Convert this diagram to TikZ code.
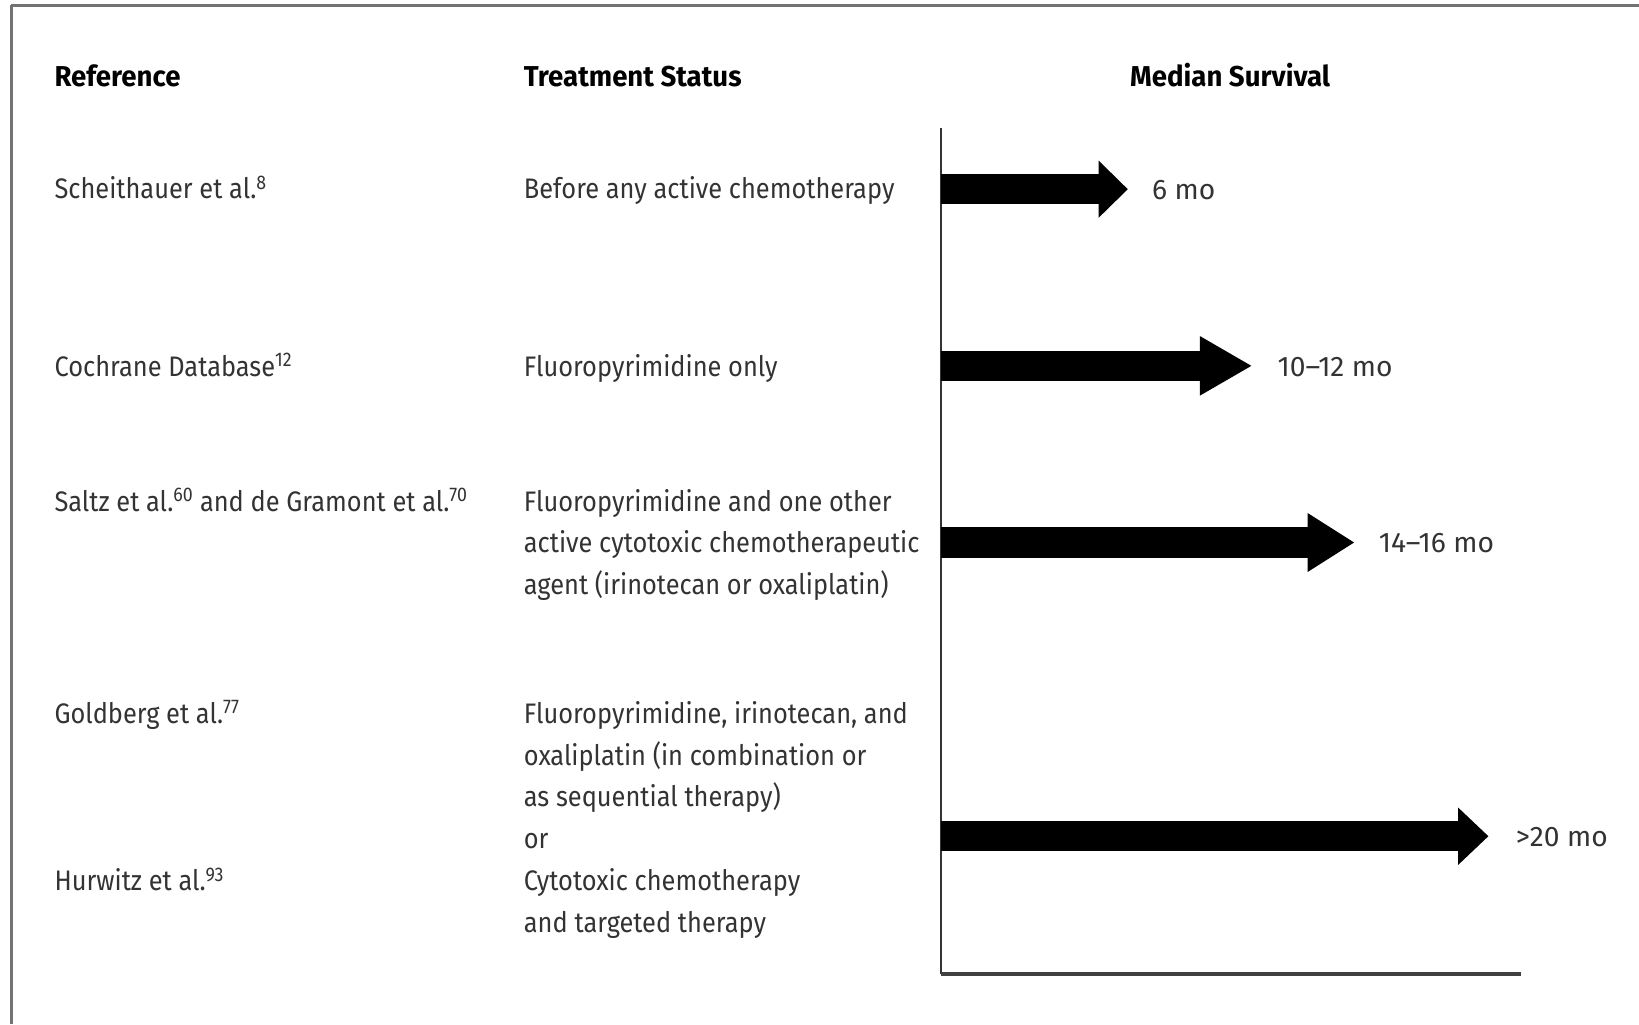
\documentclass[tikz,border=0pt]{standalone}
\usepackage{fontspec}
\setmainfont{Fira Sans}[FakeStretch=0.9]
\newfontfamily\hdrfont{Fira Sans}[FakeStretch=0.96]
\newfontfamily\lblfont{Fira Sans}[FakeStretch=1.0]
\usetikzlibrary{arrows.meta}
\begin{document}
\begin{tikzpicture}[x=1pt,y=-1pt,
  txt/.style={anchor=base west, inner sep=0pt, text=black!80, font=\fontsize{27}{40}\selectfont, align=left},
  hdr/.style={txt, text=black, font=\hdrfont\fontsize{27.5}{40}\selectfont\bfseries},
  lbl/.style={txt, font=\lblfont\fontsize{27}{40}\selectfont},
  bar/.style={line width=29pt, line cap=butt, draw=black},
  frame/.style={draw=black!55, line width=3pt},
  axisline/.style={draw=black!80, line width=1.5pt}]
\useasboundingbox (0,0) rectangle (1568,980);
% frame
\coordinate (fTL) at (11,5);
\coordinate (fTR) at (1568,5);
\coordinate (fBL) at (11,980);
\draw[frame] (fTL) -- (fTR);
\draw[frame, line width=2pt] (fTL) -- (fBL);
% headers
\node[hdr] (hRef) at (52,83) {Reference};
\node[hdr] (hTreat) at (501,83) {Treatment Status};
\node[hdr] (hSurv) at (1081,83) {Median Survival};
% rows (base anchor = baseline of the last line)
\node[txt] (r1) at (52,190) {Scheithauer et al.\textsuperscript{8}};
\node[txt] (t1) at (501,190) {Before any active chemotherapy};
\node[txt] (r2) at (52,360) {Cochrane Database\textsuperscript{12}};
\node[txt] (t2) at (501,360) {Fluoropyrimidine only};
\node[txt] (r3) at (52,489) {Saltz et al.\textsuperscript{60} and de Gramont et al.\textsuperscript{70}};
\node[txt] (t3) at (501,569) {Fluoropyrimidine and one other\\active cytotoxic chemotherapeutic\\agent (irinotecan or oxaliplatin)};
\node[txt] (r4) at (52,692) {Goldberg et al.\textsuperscript{77}};
\node[txt] (r5) at (52,852) {Hurwitz et al.\textsuperscript{93}};
\node[txt] (t4) at (501,892) {Fluoropyrimidine, irinotecan, and\\oxaliplatin (in combination or\\as sequential therapy)\\or\\Cytotoxic chemotherapy\\and targeted therapy};
% axes
\coordinate (axTop) at (900,122);
\coordinate (axO) at (900,932);
\coordinate (axEnd) at (1455,932);
\draw[axisline] (axTop) -- (axO);
\draw[draw=black!75, line width=3.5pt] (axO) -- (axEnd);
% arrows
\coordinate (s1) at (900,181); \coordinate (e1) at (1079,181);
\coordinate (s2) at (900,350); \coordinate (e2) at (1198,350);
\coordinate (s3) at (900,519); \coordinate (e3) at (1296,519);
\coordinate (s4) at (900,800); \coordinate (e4) at (1424,800);
\draw[bar, -{Triangle[length=28pt,width=53pt]}] (s1) -- (e1);
\draw[bar, -{Triangle[length=50pt,width=53pt]}] (s2) -- (e2);
\draw[bar, -{Triangle[length=45pt,width=53pt]}] (s3) -- (e3);
\draw[bar, -{Triangle[length=29pt,width=53pt]}] (s4) -- (e4);
% labels
\node[lbl] (m1) at (1102,191) {6 mo};
\node[lbl] (m2) at (1222,360) {10–12 mo};
\node[lbl] (m3) at (1319,529) {14–16 mo};
\node[lbl] (m4) at (1450,810) {>20 mo};
\end{tikzpicture}
\end{document}
